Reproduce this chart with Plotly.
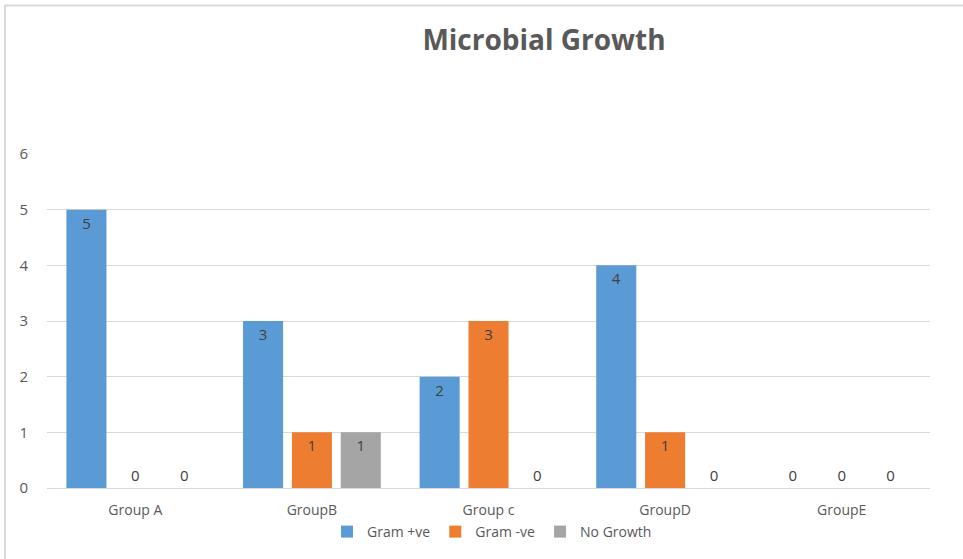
import plotly.graph_objects as go

# Chart data
groups = ["Group A", "GroupB", "Group c", "GroupD", "GroupE"]
gram_pos = [5, 3, 2, 4, 0]
gram_neg = [0, 1, 3, 1, 0]
no_growth = [0, 1, 0, 0, 0]
y_ticks = [0, 1, 2, 3, 4, 5, 6]

series = [
    ("Gram +ve", gram_pos, "#5B9BD5"),
    ("Gram -ve", gram_neg, "#ED7D31"),
    ("No Growth", no_growth, "#A5A5A5"),
]

FONT = "Open Sans"
TXT = "#595959"

fig = go.Figure()
for name, vals, color in series:
    fig.add_trace(go.Bar(
        name=name,
        x=groups,
        y=vals,
        marker=dict(color=color, line=dict(width=0)),
        text=[str(v) for v in vals],
        textposition=["inside" if v > 0 else "outside" for v in vals],
        insidetextanchor="end",
        constraintext="none",
        cliponaxis=False,
        textfont=dict(family=FONT, size=15, color="#404040"),
    ))

fig.update_layout(
    width=963,
    height=559,
    margin=dict(l=47, r=33, t=154, b=70),
    paper_bgcolor="white",
    plot_bgcolor="white",
    barmode="group",
    bargap=0.17,
    bargroupgap=0.18,
    font=dict(family=FONT, size=14, color=TXT),
    title=dict(
        text="<b>Microbial Growth</b>",
        x=544 / 963, xref="container", xanchor="center",
        y=1 - 40 / 559, yref="container", yanchor="middle",
        font=dict(family=FONT, size=28, color=TXT),
    ),
    xaxis=dict(
        showgrid=False,
        showline=True,
        linecolor="#d9d9d9",
        linewidth=1,
        ticks="",
        ticklabelstandoff=9,
        tickfont=dict(family=FONT, size=14, color=TXT),
    ),
    yaxis=dict(
        range=[0, 6],
        tickvals=y_ticks,
        showgrid=True,
        gridcolor="#d9d9d9",
        gridwidth=1,
        zeroline=False,
        showline=False,
        ticks="",
        ticklabelstandoff=18,
        tickfont=dict(family=FONT, size=15, color=TXT),
    ),
    legend=dict(
        orientation="h",
        x=(492 - 47) / 883, xanchor="center",
        y=(489 - 532) / 335, yanchor="middle",
        bgcolor="rgba(0,0,0,0)",
        font=dict(family=FONT, size=14, color=TXT),
        itemwidth=30,
        tracegroupgap=0,
        traceorder="normal",
    ),
    shapes=[
        dict(
            type="rect", xref="paper", yref="paper",
            x0=(5 - 47) / 883, x1=(1010 - 47) / 883,
            y0=(489 - 620) / 335, y1=(489 - 5) / 335,
            line=dict(color="#d9d9d9", width=2),
            fillcolor="rgba(0,0,0,0)",
            layer="below",
        )
    ],
)

fig.write_html("out.html")
